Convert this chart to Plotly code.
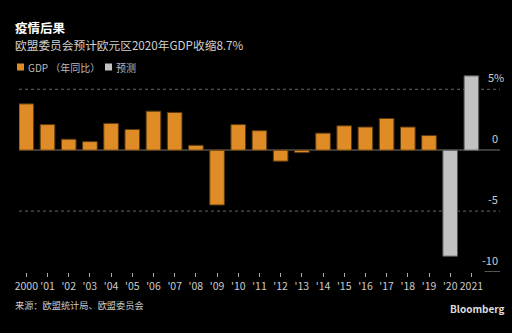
import plotly.graph_objects as go

years = ["2000", "'01", "'02", "'03", "'04", "'05", "'06", "'07", "'08", "'09", "'10",
         "'11", "'12", "'13", "'14", "'15", "'16", "'17", "'18", "'19", "'20", "2021"]
gdp = [3.8, 2.1, 0.9, 0.7, 2.2, 1.7, 3.2, 3.1, 0.4, -4.5, 2.1,
       1.6, -0.9, -0.2, 1.4, 2.0, 1.9, 2.6, 1.9, 1.2]
forecast = [-8.7, 6.1]
ytick_vals = [5, 0, -5, -10]
ytick_text = ["5%", "0", "-5", "-10"]

x_all = list(range(len(years)))
x_gdp = x_all[:len(gdp)]
x_fc = x_all[len(gdp):]

ORANGE = "#E08C26"
GRAY = "#C2C2C2"

fig = go.Figure()
fig.add_trace(go.Bar(x=x_gdp, y=gdp, name="GDP （年同比）",
                     marker=dict(color=ORANGE, line=dict(color="#5a3a10", width=1)),
                     width=0.69, showlegend=False))
fig.add_trace(go.Bar(x=x_fc, y=forecast, name="预测",
                     marker=dict(color=GRAY, line=dict(color="#555555", width=1)),
                     width=0.69, showlegend=False))

font = "Noto Sans CJK SC, Noto Sans, sans-serif"
L, R, T, B = 19, 12, 71, 61
PW, PH = 512 - L - R, 333 - T - B

fig.update_layout(
    width=512, height=333,
    paper_bgcolor="#000000", plot_bgcolor="#000000",
    margin=dict(l=L, r=R, t=T, b=B),
    font=dict(family=font, color="#cccccc", size=11),
    bargap=0.31,
    xaxis=dict(range=[-0.345, 22.35], tickmode="array", tickvals=x_all, ticktext=years,
               tickangle=0, showgrid=False, zeroline=False, showline=False,
               ticks="outside", ticklen=4, tickcolor="#aaaaaa", tickwidth=1,
               tickfont=dict(size=10.5, color="#cccccc")),
    yaxis=dict(range=[-10, 6.5], tickvals=ytick_vals, showticklabels=False,
               showgrid=False, zeroline=True, zerolinecolor="#3a3a3a", zerolinewidth=1.5,
               showline=False),
)

# dotted gridlines at 5 and -5
for v in [5, -5]:
    fig.add_shape(type="line", xref="paper", yref="y", x0=0, x1=1, y0=v, y1=v,
                  line=dict(color="#666666", width=1, dash="dot"), layer="below")
# short solid line at -10 under the label
fig.add_shape(type="line", xref="paper", yref="y", x0=0.968, x1=1, y0=-10, y1=-10,
              line=dict(color="#aaaaaa", width=1))

for v, t in zip(ytick_vals, ytick_text):
    fig.add_annotation(x=1, xref="paper", y=v, yref="y", text=t, showarrow=False,
                       xanchor="right", yanchor="bottom", yshift=2,
                       xshift=6 if t.endswith("%") else 0,
                       font=dict(size=11, color="#cccccc"))


def fig_text(text, xpx, ypx, size, color, bold=False, xanchor="left"):
    fig.add_annotation(x=(xpx - L) / PW, y=(333 - B - ypx) / PH,
                       xref="paper", yref="paper",
                       text=f"<b>{text}</b>" if bold else text, showarrow=False,
                       xanchor=xanchor, yanchor="middle",
                       font=dict(size=size, color=color, family=font))


def fig_square(xpx, ypx, color):
    fig.add_shape(type="rect", xref="paper", yref="paper",
                  x0=(xpx - L) / PW, x1=(xpx + 7 - L) / PW,
                  y0=(333 - B - ypx - 3.5) / PH, y1=(333 - B - ypx + 3.5) / PH,
                  fillcolor=color, line=dict(width=0))


fig_text("疫情后果", 13, 28, 12.5, "#ffffff", bold=True)
fig_text("欧盟委员会预计欧元区2020年GDP收缩8.7%", 13, 44, 11.7, "#d0d0d0")
fig_square(17, 67, ORANGE)
fig_text("GDP （年同比）", 26, 67, 10, "#bbbbbb")
fig_square(105, 67, GRAY)
fig_text("预测", 114, 67, 10, "#bbbbbb")
fig_text("来源：欧盟统计局、欧盟委员会", 13, 305, 9.2, "#cccccc")
fig_text("Bloomberg", 507, 308, 10, "#dddddd", bold=True, xanchor="right")

fig.write_html("out.html")
